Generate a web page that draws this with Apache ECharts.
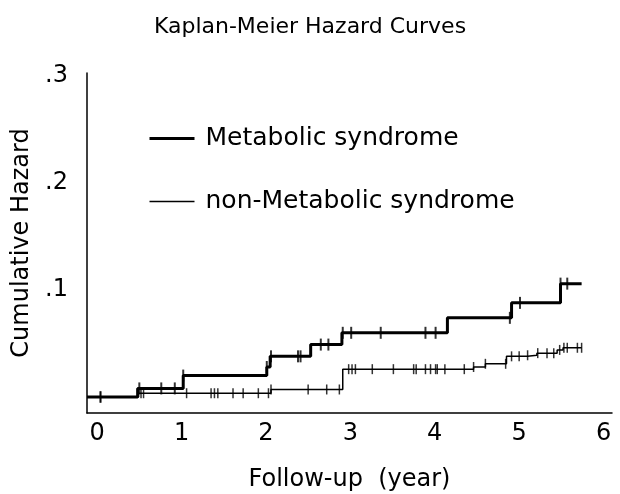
<!DOCTYPE html>
<html>
<head>
<meta charset="utf-8">
<script src="https://cdn.jsdelivr.net/npm/echarts@6/dist/echarts.min.js"></script>
<style>
html,body{margin:0;padding:0;background:#fff;}
#chart{width:620px;height:494px;}
</style>
</head>
<body>
<div id="chart"></div>
<script>
// Step-function data (time in years, cumulative hazard from that time on)
const metTimes   = [-0.12, 0.48, 1.02, 2.01, 2.05, 2.53, 2.90, 4.15, 4.91, 5.49, 5.74];
const metHazard  = [0, 0.008, 0.020, 0.028, 0.038, 0.049, 0.060, 0.074, 0.088, 0.106, 0.106];
const nonTimes   = [-0.12, 0.49, 2.06, 2.91, 4.46, 4.60, 4.85, 5.10, 5.21, 5.45, 5.52, 5.74];
const nonHazard  = [0, 0.0035, 0.007, 0.026, 0.028, 0.031, 0.038, 0.039, 0.041, 0.044, 0.046, 0.046];
// Censoring times
const metCensor = [0.04, 0.50, 0.76, 0.92, 1.02, 2.01, 2.06, 2.38, 2.41, 2.65, 2.74, 2.91, 3.01, 3.36, 3.89, 4.01, 4.89, 5.01, 5.49, 5.57];
const nonCensor = [0.04, 0.52, 0.55, 1.06, 1.35, 1.39, 1.43, 1.61, 1.73, 1.91, 2.03, 2.06, 2.50, 2.72, 2.87, 2.98, 3.02, 3.06, 3.26, 3.51, 3.75, 3.78, 3.89, 3.95, 4.01, 4.03, 4.12, 4.35, 4.46, 4.60, 4.84, 4.91, 5.00, 5.10, 5.22, 5.33, 5.41, 5.48, 5.53, 5.57, 5.69, 5.74];
const xTickValues = [0, 1, 2, 3, 4, 5, 6];
const yTickValues = [0.1, 0.2, 0.3];
const seriesNames = ['Metabolic syndrome', 'non-Metabolic syndrome'];

function pairs(t, v){ return t.map((x,i)=>[x, v[i]]); }
function stepAt(t, v, c){
  let val = v[0];
  for (let i=0;i<t.length;i++){ if (t[i] <= c + 1e-9) val = v[i]; }
  return val;
}
const FONT = 'DejaVu Sans';
const chart = echarts.init(document.getElementById('chart'));
chart.setOption({
  animation:false,
  backgroundColor:'#fff',
  title:{
    text:'Kaplan-Meier Hazard Curves', left:'center', top:11,
    textStyle:{fontFamily:FONT, fontSize:22, fontWeight:'normal', color:'#000'}
  },
  legend:{
    data:[
      {name:seriesNames[0], lineStyle:{width:3}},
      {name:seriesNames[1], lineStyle:{width:1.5}}
    ],
    orient:'vertical', left:143, top:121,
    itemWidth:45, itemHeight:22, itemGap:38,
    itemStyle:{opacity:0},
    textStyle:{fontFamily:FONT, fontSize:25, color:'#000', padding:[0,0,0,6]}
  },
  grid:{left:87, right:8, top:73, bottom:81, outerBoundsMode:'none', containLabel:false},
  xAxis:{
    type:'value', min:-0.12, max:6.1,
    name:'Follow-up  (year)', nameLocation:'middle', nameGap:55,
    nameTextStyle:{fontFamily:FONT, fontSize:24, color:'#000'},
    axisLine:{onZero:false, lineStyle:{color:'#000', width:1.5}},
    axisTick:{show:false},
    splitLine:{show:false},
    axisLabel:{customValues:xTickValues, margin:9, fontFamily:FONT, fontSize:24, color:'#000'}
  },
  yAxis:{
    type:'value', min:-0.015, max:0.303,
    name:'Cumulative Hazard', nameLocation:'middle', nameGap:52, nameRotate:90,
    nameTextStyle:{fontFamily:FONT, fontSize:24, color:'#000'},
    axisLine:{show:true, onZero:false, lineStyle:{color:'#000', width:1.5}},
    axisTick:{show:false},
    splitLine:{show:false},
    axisLabel:{customValues:yTickValues, margin:19, fontFamily:FONT, fontSize:24, color:'#000',
      formatter:v=>'.'+Math.round(v*10)}
  },
  series:[
    {name:seriesNames[0], type:'line', step:'end', symbol:'none',
     lineStyle:{color:'#000', width:3}, itemStyle:{color:'#000'},
     data:pairs(metTimes, metHazard)},
    {name:seriesNames[1], type:'line', step:'end', symbol:'none',
     lineStyle:{color:'#000', width:1.5}, itemStyle:{color:'#000'},
     data:pairs(nonTimes, nonHazard)},
    {name:'met-censor', type:'scatter', symbol:'rect', symbolSize:[2,12],
     itemStyle:{color:'#000'},
     data:metCensor.map(c=>[c, stepAt(metTimes, metHazard, c)])},
    {name:'non-censor', type:'scatter', symbol:'rect', symbolSize:[1.5,10],
     itemStyle:{color:'#000'},
     data:nonCensor.map(c=>[c, stepAt(nonTimes, nonHazard, c)])}
  ]
});
</script>
</body>
</html>
